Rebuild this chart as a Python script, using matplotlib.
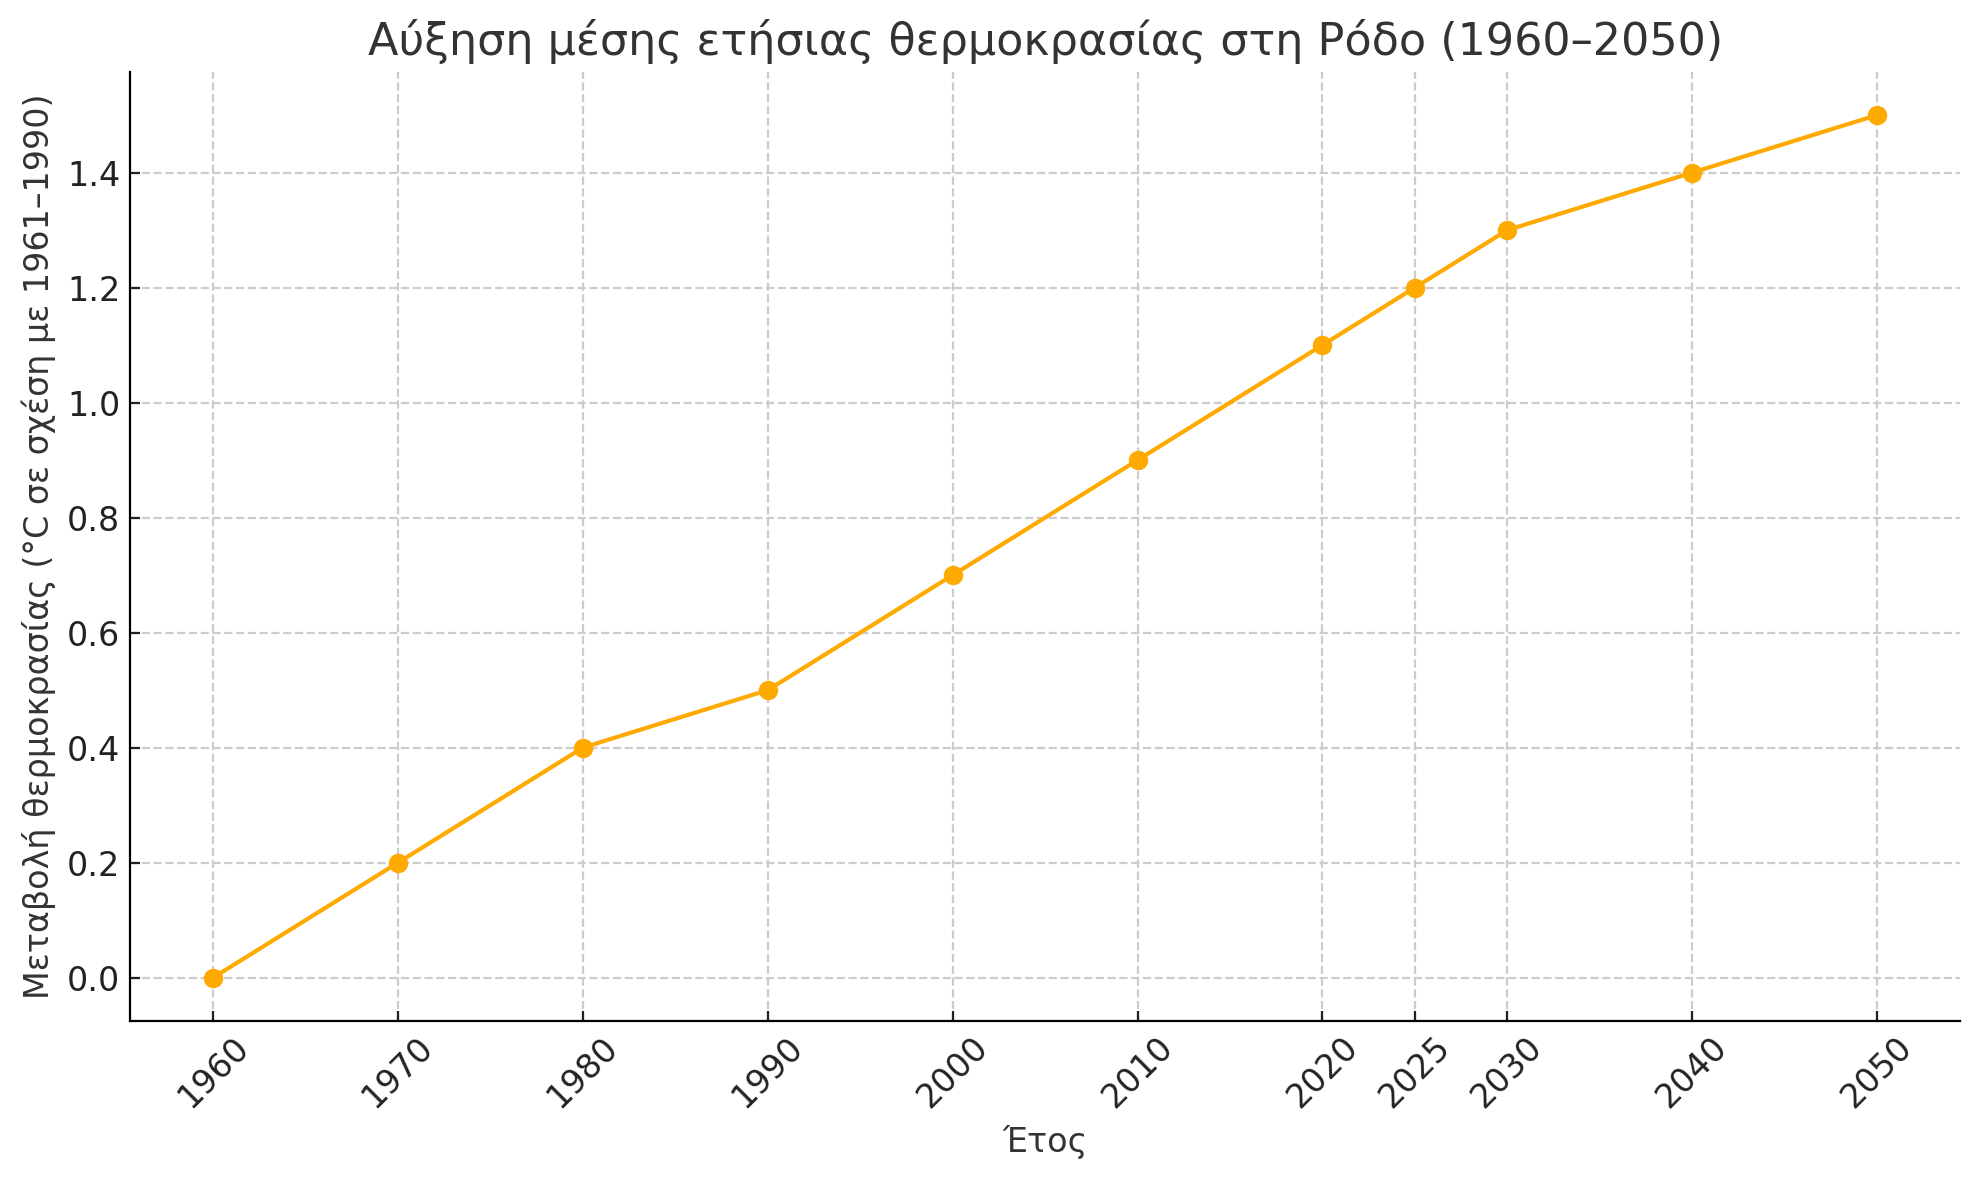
import matplotlib
matplotlib.use("Agg")
import matplotlib.pyplot as plt

years = [1960, 1970, 1980, 1990, 2000, 2010, 2020, 2025, 2030, 2040, 2050]
temp_change = [0.0, 0.2, 0.4, 0.5, 0.7, 0.9, 1.1, 1.2, 1.3, 1.4, 1.5]

plt.rcParams['font.family'] = ['DejaVu Sans']

fig, ax = plt.subplots(figsize=(9.9, 5.9), dpi=200)
fig.subplots_adjust(left=0.0657, right=0.990, top=0.939, bottom=0.135)

ax.plot(years, temp_change, color='#FFAA00', marker='o', linewidth=1.5, markersize=6)

ax.set_title("Αύξηση μέσης ετήσιας θερμοκρασίας στη Ρόδο (1960–2050)",
             fontsize=16, color='#333333')
ax.set_xlabel("Έτος", fontsize=12, color='#333333')
ax.set_ylabel("Μεταβολή θερμοκρασίας (°C σε σχέση με 1961–1990)", fontsize=12, color='#333333')

ax.set_xticks(years)
ax.set_xticklabels([str(y) for y in years], rotation=45)
ax.tick_params(labelsize=12, colors='#222222', direction='in')
ax.grid(True, linestyle='--', color='#cccccc', linewidth=0.8)
ax.spines['top'].set_visible(False)
ax.spines['right'].set_visible(False)

fig.savefig("out.png", dpi=200)
